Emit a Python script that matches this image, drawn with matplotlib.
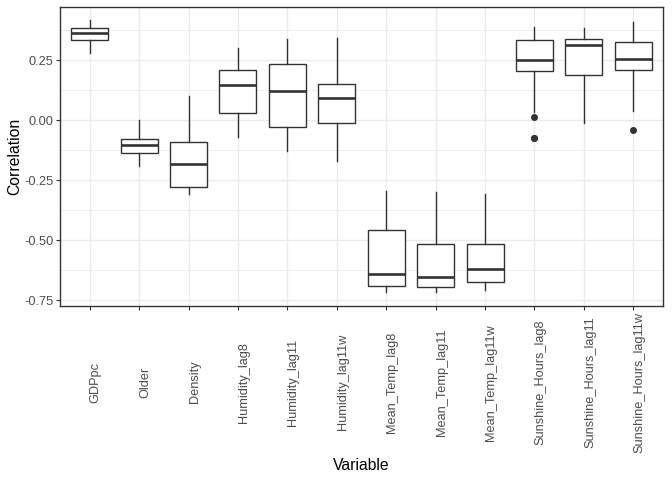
import matplotlib
matplotlib.use("Agg")
import matplotlib.pyplot as plt
from matplotlib.ticker import FixedLocator

plt.rcParams["font.family"] = ["Liberation Sans", "DejaVu Sans"]

variables = ["GDPpc", "Older", "Density", "Humidity_lag8", "Humidity_lag11",
             "Humidity_lag11w", "Mean_Temp_lag8", "Mean_Temp_lag11",
             "Mean_Temp_lag11w", "Sunshine_Hours_lag8", "Sunshine_Hours_lag11",
             "Sunshine_Hours_lag11w"]
whisker_low = [0.278, -0.189, -0.306, -0.068, -0.127, -0.168, -0.714, -0.714, -0.706, 0.036, -0.010, 0.040]
q1 = [0.333, -0.138, -0.279, 0.029, -0.029, -0.0125, -0.692, -0.696, -0.675, 0.204, 0.1875, 0.208]
median = [0.365, -0.103, -0.181, 0.147, 0.123, 0.094, -0.640, -0.653, -0.620, 0.251, 0.311, 0.255]
q3 = [0.382, -0.079, -0.092, 0.208, 0.233, 0.150, -0.458, -0.517, -0.517, 0.333, 0.3375, 0.325]
whisker_high = [0.418, 0.001, 0.100, 0.300, 0.3375, 0.342, -0.295, -0.299, -0.307, 0.390, 0.385, 0.410]
outliers = [[], [], [], [], [], [], [], [], [], [0.0125, -0.0725, -0.076], [], [-0.042]]

y_ticks = [-0.75, -0.50, -0.25, 0.00, 0.25]
y_tick_labels = ["-0.75", "-0.50", "-0.25", "0.00", "0.25"]
y_minor = [-0.625, -0.375, -0.125, 0.125, 0.375]

dark = "#333333"
grid = "#EBEBEB"
txt = "#4D4D4D"

fig = plt.figure(figsize=(6.72, 4.8), dpi=100)
ax = fig.add_axes([60/672, 1-306.3/480, (663-60)/672, (306.3-7.3)/480])

stats = []
for i, v in enumerate(variables):
    stats.append(dict(label=v, whislo=whisker_low[i], q1=q1[i], med=median[i],
                      q3=q3[i], whishi=whisker_high[i], fliers=outliers[i]))
positions = list(range(1, len(variables) + 1))
ax.bxp(stats, positions=positions, widths=0.75, showcaps=False, patch_artist=True,
       boxprops=dict(facecolor="white", edgecolor=dark, linewidth=1.0),
       whiskerprops=dict(color=dark, linewidth=1.0),
       medianprops=dict(color=dark, linewidth=1.9, solid_capstyle="butt"),
       flierprops=dict(marker="o", markerfacecolor=dark, markeredgecolor=dark,
                       markersize=4.0, linestyle="none"),
       zorder=3)

ax.set_xlim(0.4, 12.6)
ax.set_ylim(-0.775, 0.47)
ax.set_yticks(y_ticks)
ax.set_yticklabels(y_tick_labels)
ax.yaxis.set_minor_locator(FixedLocator(y_minor))
ax.set_xticks(positions)
ax.set_xticklabels(variables, rotation=90, va="center", ha="left",
                   rotation_mode="default")

ax.set_axisbelow(True)
ax.grid(True, which="major", color=grid, linewidth=1.0, zorder=0)
ax.grid(True, which="minor", axis="y", color=grid, linewidth=0.6, zorder=0)
ax.tick_params(axis="both", which="major", length=2.6, width=0.8, color=dark,
               labelcolor=txt, labelsize=9.2)
ax.tick_params(axis="x", pad=52)
ax.tick_params(axis="y", pad=2)
ax.tick_params(which="minor", length=0)
for s in ax.spines.values():
    s.set_color(dark)
    s.set_linewidth(1.0)

ax.set_xlabel("Variable", fontsize=11.3, color="black")
ax.xaxis.set_label_coords(0.5, -(465 - 306.3) / (306.3 - 7.3), transform=ax.transAxes)
ax.xaxis.label.set_va("center")
ax.set_ylabel("Correlation", fontsize=11.3, color="black")
ax.yaxis.set_label_coords(-(60 - 15) / (663 - 60), 0.5)
ax.yaxis.label.set_va("center")

fig.savefig("out.png", dpi=100, facecolor="white")
